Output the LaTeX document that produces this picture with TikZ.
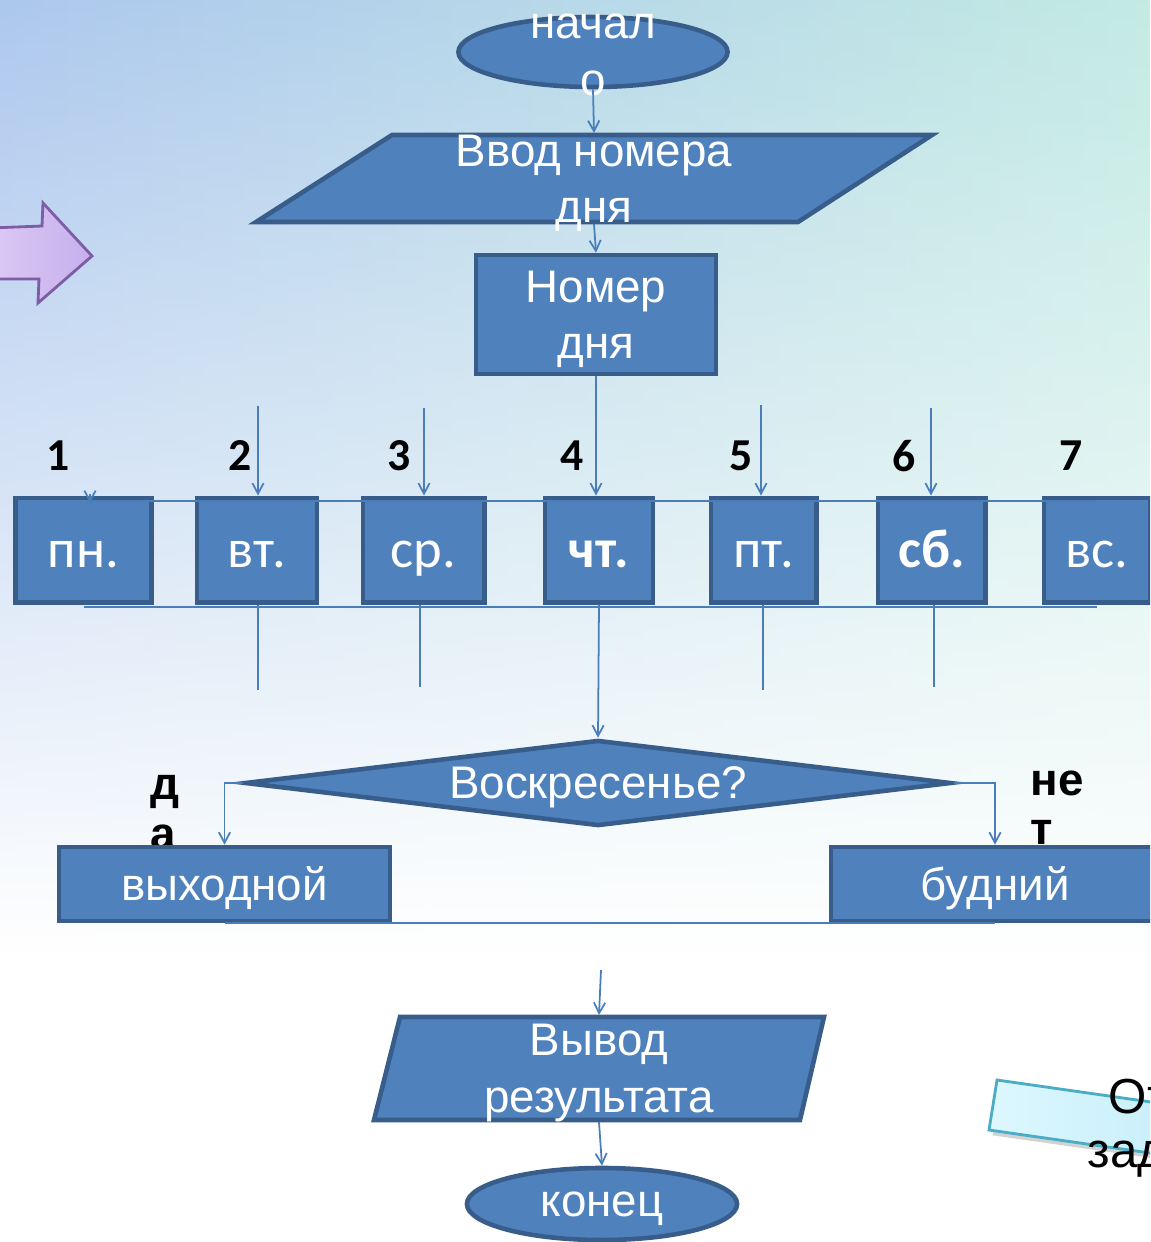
\documentclass[tikz,border=0pt]{standalone}
\usepackage{fontspec}
\setmainfont{Liberation Sans}
\newfontfamily\daysfont{Carlito}
\usetikzlibrary{shapes.geometric,arrows.meta,fadings,shadows}

\definecolor{boxfill}{HTML}{4F81BD}
\definecolor{boxline}{HTML}{385D8A}
\definecolor{connline}{HTML}{4A7EBB}
\definecolor{bgleft}{HTML}{9CBCEA}
\definecolor{bgright}{HTML}{B6E6DE}
\definecolor{arrowfillL}{HTML}{DCC8F4}
\definecolor{arrowfillR}{HTML}{C6B0EC}
\definecolor{arrowline}{HTML}{7E5CA6}
\definecolor{notefillL}{HTML}{DDF7FE}
\definecolor{notefillR}{HTML}{C5EEFA}
\definecolor{noteline}{HTML}{4BACC6}

\tikzset{
  block/.style={draw=boxline, fill=boxfill, line width=1.3pt, text=white, inner sep=0pt},
  mainfont/.style={font=\fontsize{13}{16}\selectfont},
  flowtext/.style={mainfont, text=white, align=center, inner sep=0pt},
  anchorbox/.style={rectangle, inner sep=0pt, outer sep=0pt},
  daybox/.style={block, line width=1.4pt, minimum height=1.04cm, text height=0.45cm, text depth=0.1cm,
    font=\daysfont\fontsize{15.5}{18}\selectfont},
  numlabel/.style={font=\daysfont\bfseries\fontsize{13}{15}\selectfont, inner sep=0pt},
  answer/.style={font=\bfseries\fontsize{13}{14}\selectfont, align=left, inner sep=0pt, anchor=north west},
  conn/.style={draw=connline, line width=0.5pt},
  arr/.style={-{Straight Barb[length=3pt,width=3.2pt]}}
}

\begin{document}
\begin{tikzpicture}[x=0.01cm, y=-0.01cm]
\useasboundingbox (0,0) rectangle (1150,1242);
\clip (0,0) rectangle (1150,1242);

% background
\fill[white] (0,0) rectangle (1150,1242);
\shade[left color=bgleft, right color=bgright, path fading=south] (0,-200) rectangle (1150,950);

% arrow on the left
\draw[draw=arrowline, line width=0.8pt, left color=arrowfillL, right color=arrowfillR]
  (-10,228) -- (42,226) -- (43,203) -- (92,256) -- (38,303) -- (39,279) -- (-10,279) -- cycle;

% note at the bottom right
\draw[draw=noteline, line width=0.8pt, left color=notefillL, right color=notefillR,
  drop shadow={shadow xshift=1pt, shadow yshift=-1.5pt, opacity=0.35}]
  (997,1080) -- (1200,1109) -- (1192,1159) -- (989,1130) -- cycle;
\node[anchor=base west, font=\fontsize{14}{16}\selectfont, inner sep=0pt] (notetop) at (1108,1113) {От};
\node[anchor=base west, font=\fontsize{14}{16}\selectfont, inner sep=0pt] (notebottom) at (1087,1167) {зад};

% flowchart
\node[block, ellipse, minimum width=2.69cm, minimum height=0.70cm] (start) at (593,52) {};
\node[flowtext] (starttext) at (593,55) {начал\\о};

\draw[block] (392,135) -- (932,135) -- (798,222) -- (256,222) -- cycle;
\node[anchorbox, minimum width=5.44cm, minimum height=0.91cm] (input) at (594,178.5) {};
\node[flowtext] (inputtext) at (594,183) {Ввод номера\\дня};

\node[block, mainfont, align=center, text depth=0pt, minimum width=2.40cm, minimum height=1.19cm] (daynum) at (596,314.5) {Номер\\дня};

\foreach \num/\xpos in {1/58, 2/240, 3/399, 4/572, 5/741, 6/904, 7/1071}
  \node[numlabel] (num\num) at (\xpos,456) {\num};

\node[daybox, minimum width=1.35cm] (mon) at (83.5,550) {пн.};
\node[daybox, minimum width=1.20cm] (tue) at (257,550) {вт.};
\node[daybox, minimum width=1.21cm] (wed) at (423.5,550) {ср.};
\node[daybox, minimum width=1.08cm] (thu) at (599,550) {\bfseries чт.};
\node[daybox, minimum width=1.05cm] (fri) at (763.5,550) {пт.};
\node[daybox, minimum width=1.07cm] (sat) at (931.5,550) {\bfseries сб.};
\node[daybox, minimum width=1.06cm] (sun) at (1097,550) {вс.};

\node[block, diamond, mainfont, shape aspect=8.2, text depth=0pt, minimum width=7.06cm, minimum height=0.86cm] (sunq) at (598,783) {Воскресенье?};

\node[answer] (yes) at (150,775) {д\\а};
\node[answer] (no) at (1030,770) {не\\т};

\node[block, mainfont, text depth=0pt, minimum width=3.31cm, minimum height=0.74cm] (holiday) at (224.5,884) {выходной};
\node[block, mainfont, text depth=0pt, minimum width=3.28cm, minimum height=0.74cm] (workday) at (995,884) {будний};

\draw[block] (400,1017) -- (824,1017) -- (800,1120) -- (374,1120) -- cycle;
\node[anchorbox, minimum width=4.28cm, minimum height=1.07cm] (output) at (599,1068.5) {};
\node[flowtext] (outputtext) at (599,1073) {Вывод\\результата};

\node[block, ellipse, mainfont, text depth=0pt, minimum width=2.70cm, minimum height=0.72cm] (stop) at (602,1204) {конец};

% connectors
\coordinate (tuein) at (258,406);
\coordinate (wedin) at (424,408);
\coordinate (friin) at (761,405);
\coordinate (satin) at (931,408);
\coordinate (monin) at (90,494);
\coordinate (tueout) at (258,690);
\coordinate (wedout) at (420,687);
\coordinate (friout) at (763,690);
\coordinate (satout) at (934,687);
\coordinate (topL) at (88,501);
\coordinate (topR) at (1097,501);
\coordinate (botL) at (84,607);
\coordinate (botR) at (1097,607);
\coordinate (outin) at (601,970);

\draw[conn, arr] (start.south) -- (input.north);
\draw[conn, arr] (input.south) -- (daynum.north);
\draw[conn, arr] (daynum.south) -- (daynum.south |- thu.north);
\draw[conn, arr] (tuein) -- (tuein |- tue.north);
\draw[conn, arr] (wedin) -- (wedin |- wed.north);
\draw[conn, arr] (friin) -- (friin |- fri.north);
\draw[conn, arr] (satin) -- (satin |- sat.north);
\draw[conn] (topL) -- (topR);
\draw[conn, arr] (monin) -- ++(0,9);
\draw[conn] (botL) -- (botR);
\draw[conn] (tueout |- tue.south) -- (tueout);
\draw[conn] (wedout |- wed.south) -- (wedout);
\draw[conn] (friout |- fri.south) -- (friout);
\draw[conn] (satout |- sat.south) -- (satout);
\draw[conn, arr] (thu.south) -- (sunq.north);
\draw[conn, arr] (sunq.west) -| (holiday.north);
\draw[conn, arr] (sunq.east) -| (workday.north);
\draw[conn] (holiday.south) -- (workday.south);
\draw[conn, arr] (outin) -- (output.north);
\draw[conn, arr] (output.south) -- (stop.north);
\end{tikzpicture}
\end{document}
